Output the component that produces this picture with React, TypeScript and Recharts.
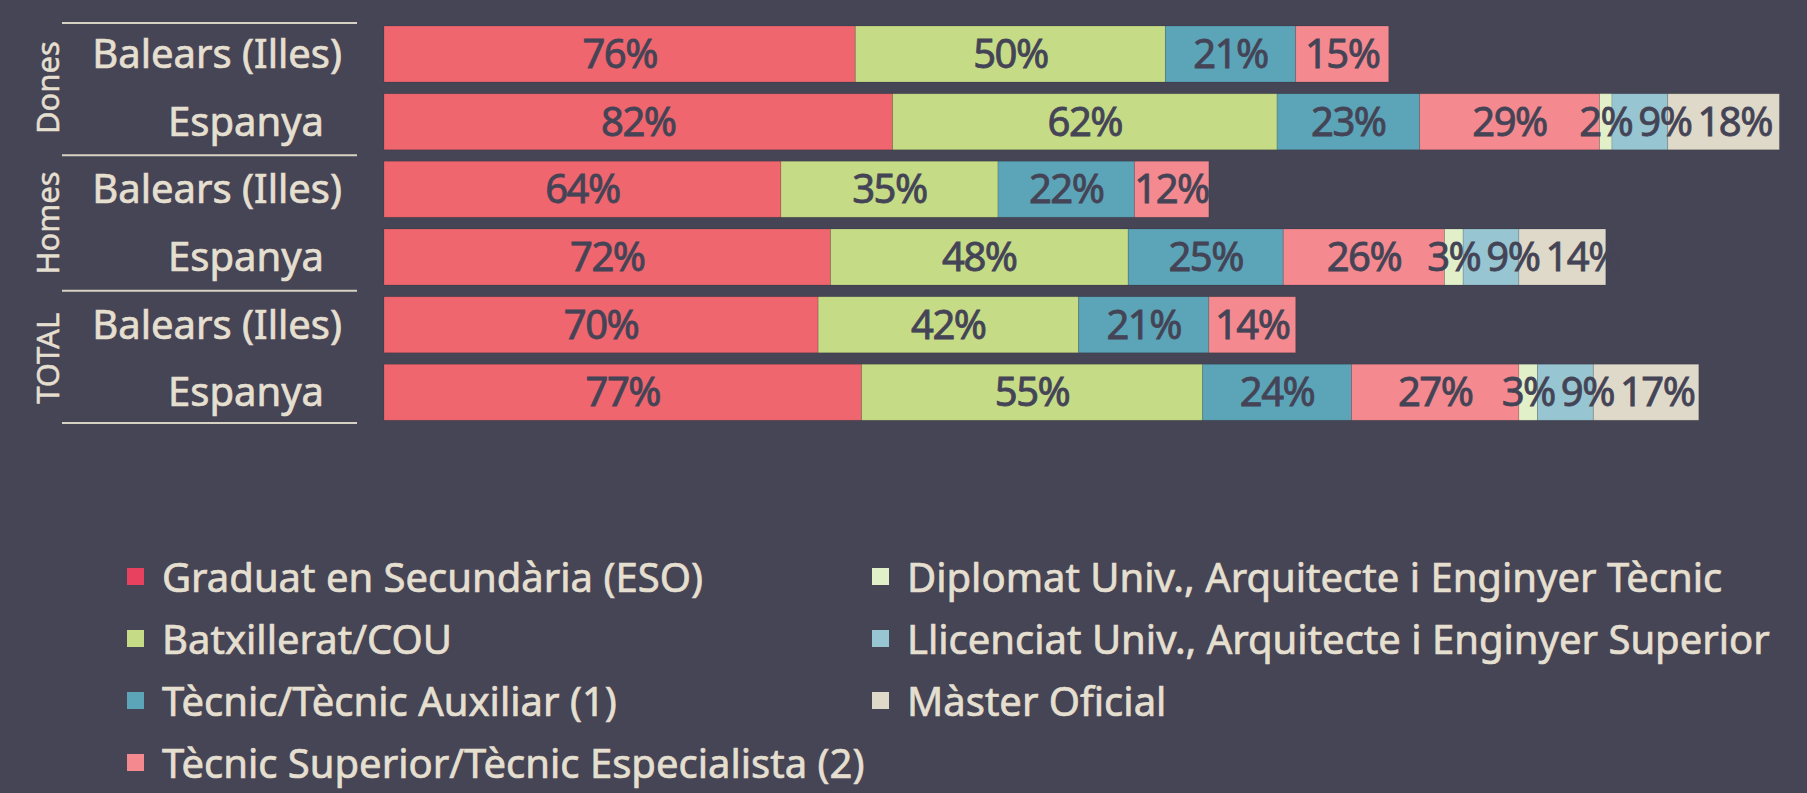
import { BarChart, Bar, XAxis, YAxis, LabelList, Legend } from 'recharts'

const REGIONS = ['Balears (Illes)', 'Espanya', 'Balears (Illes)', 'Espanya', 'Balears (Illes)', 'Espanya']
const GROUPS = ['Dones', 'Dones', 'Homes', 'Homes', 'TOTAL', 'TOTAL']

// percentatges per nivell d'estudis
const eso = [76, 82, 64, 72, 70, 77]
const batxillerat = [50, 62, 35, 48, 42, 55]
const tecnic = [21, 23, 22, 25, 21, 24]
const tecnicSuperior = [15, 29, 12, 26, 14, 27]
const diplomat = [null, 2, null, 3, null, 3]
const llicenciat = [null, 9, null, 9, null, 9]
const master = [null, 18, null, 14, null, 17]

const SERIES = [
  { key: 'eso', name: 'Graduat en Secundària (ESO)', color: '#EF666E', swatch: '#E8405F', values: eso },
  { key: 'batx', name: 'Batxillerat/COU', color: '#C5DB86', swatch: '#C5DB86', values: batxillerat },
  { key: 'tec', name: 'Tècnic/Tècnic Auxiliar (1)', color: '#5CA5B8', swatch: '#5CA5B8', values: tecnic },
  { key: 'tecsup', name: 'Tècnic Superior/Tècnic Especialista (2)', color: '#F48A8F', swatch: '#F48A8F', values: tecnicSuperior },
  { key: 'dipl', name: 'Diplomat Univ., Arquitecte i Enginyer Tècnic', color: '#E2F0C9', swatch: '#E2F0C9', values: diplomat },
  { key: 'llic', name: 'Llicenciat Univ., Arquitecte i Enginyer Superior', color: '#97C6D2', swatch: '#97C6D2', values: llicenciat },
  { key: 'mast', name: 'Màster Oficial', color: '#DFD9C9', swatch: '#DFD9C9', values: master },
]

const data = REGIONS.map((r, i) => {
  const row: Record<string, any> = { key: `${GROUPS[i]}|${r}` }
  SERIES.forEach((s) => (row[s.key] = s.values[i]))
  return row
})

const W = 1807
const H = 793
const BG = '#464555'
const LIGHT = '#E5DFD0'
const DARK = '#444456'
const FONT = '"Noto Sans", sans-serif'
const LABEL_SIZE = 40
const LABEL_SPACING = -1.5
const MARGIN = { top: 20, right: 9, bottom: 367, left: 0 }
const BAND = (H - MARGIN.top - MARGIN.bottom) / REGIONS.length
const TICK_INSET: Record<string, number> = { 'Balears (Illes)': 42, Espanya: 60 }

const ctx = typeof document !== 'undefined' ? document.createElement('canvas').getContext('2d') : null
function textWidth(t: string) {
  if (!ctx) return t.length * 22
  ctx.font = `400 ${LABEL_SIZE}px "Noto Sans"`
  return ctx.measureText(t).width + LABEL_SPACING * t.length
}

// centred labels, pushed right when they would run into the previous one
function makeLabel(si: number) {
  return (props: any) => {
    const vb = props.viewBox ?? props
    const { x, y, width, height } = vb
    const { value } = props
    if (value == null || !value) return null
    const row = Math.floor((y + height / 2 - MARGIN.top) / BAND)
    const k = width / value
    const before = SERIES.slice(0, si).reduce((a, s) => a + (s.values[row] ?? 0), 0)
    const x0 = x - before * k
    let prevRight = -Infinity
    let cum = 0
    let cx = x + width / 2
    for (let j = 0; j <= si; j++) {
      const v = SERIES[j].values[row]
      if (v == null) continue
      const w = textWidth(`${v}%`)
      let c = x0 + (cum + v / 2) * k
      if (c - w / 2 < prevRight + 6) c = prevRight + 6 + w / 2
      prevRight = c + w / 2
      cum += v
      if (j === si) cx = c
    }
    return (
      <text
        x={cx}
        y={y + height / 2}
        dy={14}
        textAnchor="middle"
        fill={DARK}
        stroke={DARK}
        strokeWidth={0.8}
        fontSize={LABEL_SIZE}
        letterSpacing={LABEL_SPACING}
        fontFamily={FONT}
      >
        {`${value}%`}
      </text>
    )
  }
}

function GroupedTick(props: any) {
  const { x, y, payload, index } = props
  const [group, region] = String(payload.value).split('|')
  const first = index === 0 || GROUPS[index - 1] !== group
  const lastRow = index === GROUPS.length - 1
  const lineStyle = { stroke: '#D8D2C2', strokeWidth: 2 }
  const topY = y - BAND / 2 + (index === 0 ? 3 : 0)
  return (
    <g>
      <text x={x - TICK_INSET[region]} y={y} dy={14} textAnchor="end" fill={LIGHT} stroke={LIGHT} strokeWidth={0.7} fontSize={40} fontFamily={FONT}>
        {region}
      </text>
      {first && (
        <>
          <line x1={x - 322} x2={x - 27} y1={topY} y2={topY} {...lineStyle} />
          <text
            transform={`translate(${x - 325}, ${y + BAND / 2}) rotate(-90)`}
            textAnchor="middle"
            fill={LIGHT}
            stroke={LIGHT}
            strokeWidth={0.5}
            fontSize={31}
            fontFamily={FONT}
          >
            {group}
          </text>
        </>
      )}
      {lastRow && <line x1={x - 322} x2={x - 27} y1={y + BAND / 2 - 3} y2={y + BAND / 2 - 3} {...lineStyle} />}
    </g>
  )
}

function LegendBox() {
  const cols = [SERIES.slice(0, 4), SERIES.slice(4)]
  return (
    <div style={{ display: 'flex', fontFamily: FONT }}>
      {cols.map((col, ci) => (
        <div key={ci} style={{ width: 745 }}>
          {col.map((s) => (
            <div
              key={s.key}
              style={{ height: 62, display: 'flex', alignItems: 'center', color: LIGHT, fontSize: 40, WebkitTextStroke: `0.7px ${LIGHT}` }}
            >
              <span style={{ width: 17, height: 17, background: s.swatch, marginRight: 18, flex: 'none' }} />
              <span style={{ whiteSpace: 'nowrap' }}>{s.name}</span>
            </div>
          ))}
        </div>
      ))}
    </div>
  )
}

export default function App() {
  return (
    <div style={{ position: 'absolute', left: 0, top: 0, width: W, height: H, background: BG }}>
      <BarChart width={W} height={H} data={data} layout="vertical" margin={MARGIN} barCategoryGap={6}>
        <XAxis type="number" hide domain={[0, 228]} />
        <YAxis type="category" dataKey="key" width={384} axisLine={false} tickLine={false} tickSize={0} tickMargin={0} tick={<GroupedTick />} interval={0} />
        <Legend
          verticalAlign="middle"
          align="center"
          content={<LegendBox />}
          wrapperStyle={{ left: 127, top: 545, width: 1600, height: 250 }}
        />
        {SERIES.map((s, si) => (
          <Bar key={s.key} dataKey={s.key} name={s.name} stackId="a" fill={s.color} stroke="rgba(0,0,0,0.12)" strokeWidth={1} isAnimationActive={false}>
            <LabelList dataKey={s.key} content={makeLabel(si)} />
          </Bar>
        ))}
      </BarChart>
    </div>
  )
}
